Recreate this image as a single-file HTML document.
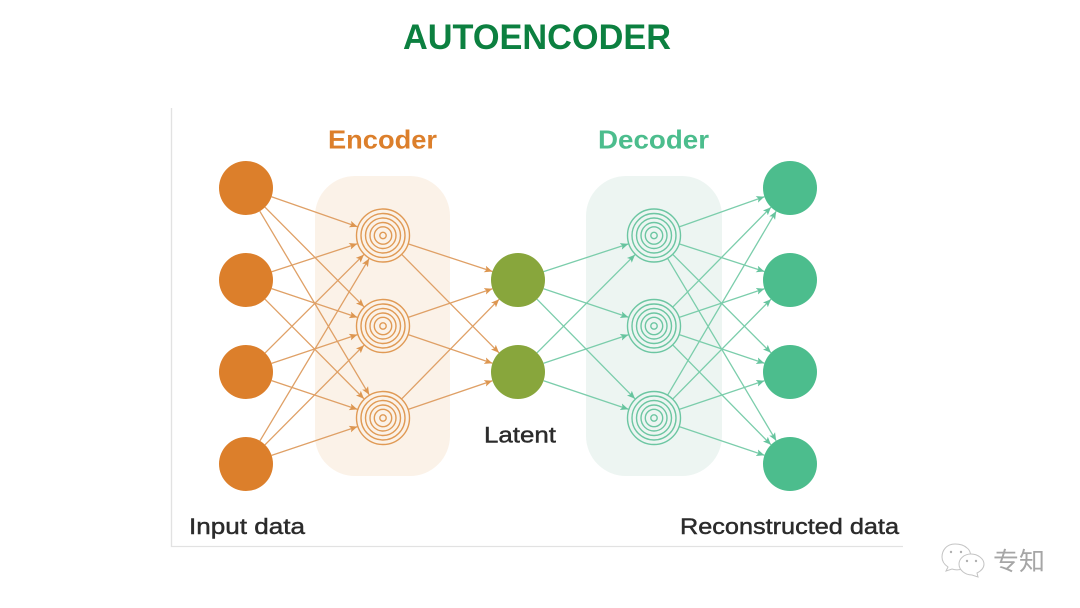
<!DOCTYPE html>
<html>
<head>
<meta charset="utf-8">
<style>
html,body{margin:0;padding:0;background:#fff;width:1080px;height:608px;overflow:hidden}
svg{display:block}
text{font-family:"Liberation Sans","Noto Sans CJK SC",sans-serif}
</style>
</head>
<body>
<svg width="1080" height="608" viewBox="0 0 1080 608" xmlns="http://www.w3.org/2000/svg">
<defs>
<marker id="ao" markerWidth="9" markerHeight="8" refX="8" refY="4" orient="auto" markerUnits="userSpaceOnUse">
<path d="M0,0.6 L8,4 L0,7.4 L1.8,4 Z" fill="#dd9650"/>
</marker>
<marker id="ag" markerWidth="9" markerHeight="8" refX="8" refY="4" orient="auto" markerUnits="userSpaceOnUse">
<path d="M0,0.6 L8,4 L0,7.4 L1.8,4 Z" fill="#66c49e"/>
</marker>
<g id="rings">
<circle r="26.5"/><circle r="22"/><circle r="17.5"/><circle r="13"/><circle r="8.7"/><circle r="3.2"/>
</g>
</defs>

<rect width="1080" height="608" fill="#fff"/>

<path d="M171.5,108 V546.5 H903" fill="none" stroke="#e2e2e2" stroke-width="1.3"/>

<text x="403" y="49" font-size="35" font-weight="bold" fill="#0c8040" textLength="268" lengthAdjust="spacingAndGlyphs">AUTOENCODER</text>

<rect x="315" y="176" width="135" height="300" rx="40" fill="#fbf2e8"/>
<rect x="586" y="176" width="136" height="300" rx="40" fill="#edf5f2"/>

<text x="328" y="148.5" font-size="26" font-weight="bold" fill="#dc7f2b" textLength="109" lengthAdjust="spacingAndGlyphs">Encoder</text>
<text x="598" y="148.5" font-size="26" font-weight="bold" fill="#4cbd8d" textLength="111" lengthAdjust="spacingAndGlyphs">Decoder</text>

<g stroke="#dfa066" stroke-width="1.3" fill="none">
<line x1="271.5" y1="196.8" x2="357.5" y2="226.7" marker-end="url(#ao)"/>
<line x1="265" y1="207.2" x2="364" y2="306.8" marker-end="url(#ao)"/>
<line x1="259.8" y1="211.2" x2="369.2" y2="394.8" marker-end="url(#ao)"/>
<line x1="271.7" y1="271.7" x2="357.3" y2="243.8" marker-end="url(#ao)"/>
<line x1="271.6" y1="288.6" x2="357.4" y2="317.4" marker-end="url(#ao)"/>
<line x1="265" y1="299.2" x2="364" y2="398.8" marker-end="url(#ao)"/>
<line x1="265.1" y1="352.9" x2="363.9" y2="254.6" marker-end="url(#ao)"/>
<line x1="271.6" y1="363.4" x2="357.4" y2="334.6" marker-end="url(#ao)"/>
<line x1="271.6" y1="380.6" x2="357.4" y2="409.4" marker-end="url(#ao)"/>
<line x1="259.9" y1="440.9" x2="369.1" y2="258.6" marker-end="url(#ao)"/>
<line x1="265" y1="444.8" x2="364" y2="345.2" marker-end="url(#ao)"/>
<line x1="271.6" y1="455.4" x2="357.4" y2="426.6" marker-end="url(#ao)"/>
<line x1="408.6" y1="244" x2="492.4" y2="271.5" marker-end="url(#ao)"/>
<line x1="402" y1="254.7" x2="499" y2="352.8" marker-end="url(#ao)"/>
<line x1="408.6" y1="317.3" x2="492.4" y2="288.7" marker-end="url(#ao)"/>
<line x1="408.6" y1="334.7" x2="492.4" y2="363.3" marker-end="url(#ao)"/>
<line x1="401.9" y1="398.7" x2="499.1" y2="299.3" marker-end="url(#ao)"/>
<line x1="408.6" y1="409.3" x2="492.4" y2="380.7" marker-end="url(#ao)"/>
</g>

<g stroke="#7bcdab" stroke-width="1.3" fill="none">
<line x1="543.6" y1="271.6" x2="628.4" y2="243.9" marker-end="url(#ag)"/>
<line x1="543.6" y1="288.7" x2="628.4" y2="317.3" marker-end="url(#ag)"/>
<line x1="537" y1="299.2" x2="635" y2="398.8" marker-end="url(#ag)"/>
<line x1="537" y1="352.8" x2="635" y2="254.7" marker-end="url(#ag)"/>
<line x1="543.6" y1="363.3" x2="628.4" y2="334.7" marker-end="url(#ag)"/>
<line x1="543.6" y1="380.7" x2="628.4" y2="409.3" marker-end="url(#ag)"/>
<line x1="679.6" y1="226.8" x2="764.4" y2="196.7" marker-end="url(#ag)"/>
<line x1="679.6" y1="244" x2="764.4" y2="271.5" marker-end="url(#ag)"/>
<line x1="673" y1="254.7" x2="771" y2="352.8" marker-end="url(#ag)"/>
<line x1="667.8" y1="258.7" x2="776.2" y2="440.8" marker-end="url(#ag)"/>
<line x1="673" y1="306.8" x2="771" y2="207.2" marker-end="url(#ag)"/>
<line x1="679.6" y1="317.3" x2="764.4" y2="288.7" marker-end="url(#ag)"/>
<line x1="679.6" y1="334.7" x2="764.4" y2="363.3" marker-end="url(#ag)"/>
<line x1="673" y1="345.2" x2="771" y2="444.8" marker-end="url(#ag)"/>
<line x1="667.8" y1="394.8" x2="776.2" y2="211.2" marker-end="url(#ag)"/>
<line x1="673" y1="398.8" x2="771" y2="299.2" marker-end="url(#ag)"/>
<line x1="679.6" y1="409.3" x2="764.4" y2="380.7" marker-end="url(#ag)"/>
<line x1="679.6" y1="426.7" x2="764.4" y2="455.3" marker-end="url(#ag)"/>
</g>

<g fill="#dc7f2b">
<circle cx="246" cy="188" r="27"/>
<circle cx="246" cy="280" r="27"/>
<circle cx="246" cy="372" r="27"/>
<circle cx="246" cy="464" r="27"/>
</g>
<g fill="#88a63c">
<circle cx="518" cy="280" r="27"/>
<circle cx="518" cy="372" r="27"/>
</g>
<g fill="#4cbd8d">
<circle cx="790" cy="188" r="27"/>
<circle cx="790" cy="280" r="27"/>
<circle cx="790" cy="372" r="27"/>
<circle cx="790" cy="464" r="27"/>
</g>

<g fill="none" stroke="#e09a55" stroke-width="1.4">
<use href="#rings" x="383" y="235.5"/>
<use href="#rings" x="383" y="326"/>
<use href="#rings" x="383" y="418"/>
</g>
<g fill="none" stroke="#6cc6a2" stroke-width="1.4">
<use href="#rings" x="654" y="235.5"/>
<use href="#rings" x="654" y="326"/>
<use href="#rings" x="654" y="418"/>
</g>

<g font-size="22.5" fill="#2b2b2b" stroke="#2b2b2b" stroke-width="0.45">
<text x="484" y="442.5" textLength="72" lengthAdjust="spacingAndGlyphs">Latent</text>
<text x="189" y="534" textLength="116" lengthAdjust="spacingAndGlyphs">Input data</text>
<text x="680" y="534" textLength="219" lengthAdjust="spacingAndGlyphs">Reconstructed data</text>
</g>

<g fill="#fff" stroke="#c4c4c4" stroke-width="1">
<path d="M955,544 C946,544 942,551 942,557 C942,562 945,565 948,567 L946,571 L952,569 C955,570 959,570 962,569 C972,566 973,552 967,548 C964,545 960,544 955,544 Z"/>
<path d="M971,554 C964,554 959,559 959,564 C959,570 965,575 972,575 L978,577 L977,573 C981,571 984,568 984,564 C984,559 978,554 971,554 Z"/>
</g>
<g fill="#b0b0b0">
<circle cx="951" cy="552" r="1.2"/><circle cx="961" cy="552" r="1.2"/>
<circle cx="967" cy="561" r="1.2"/><circle cx="976" cy="561" r="1.2"/>
</g>
<text x="993" y="570" font-size="25" fill="#a6a6a6" textLength="52" lengthAdjust="spacingAndGlyphs">专知</text>
</svg>
</body>
</html>
